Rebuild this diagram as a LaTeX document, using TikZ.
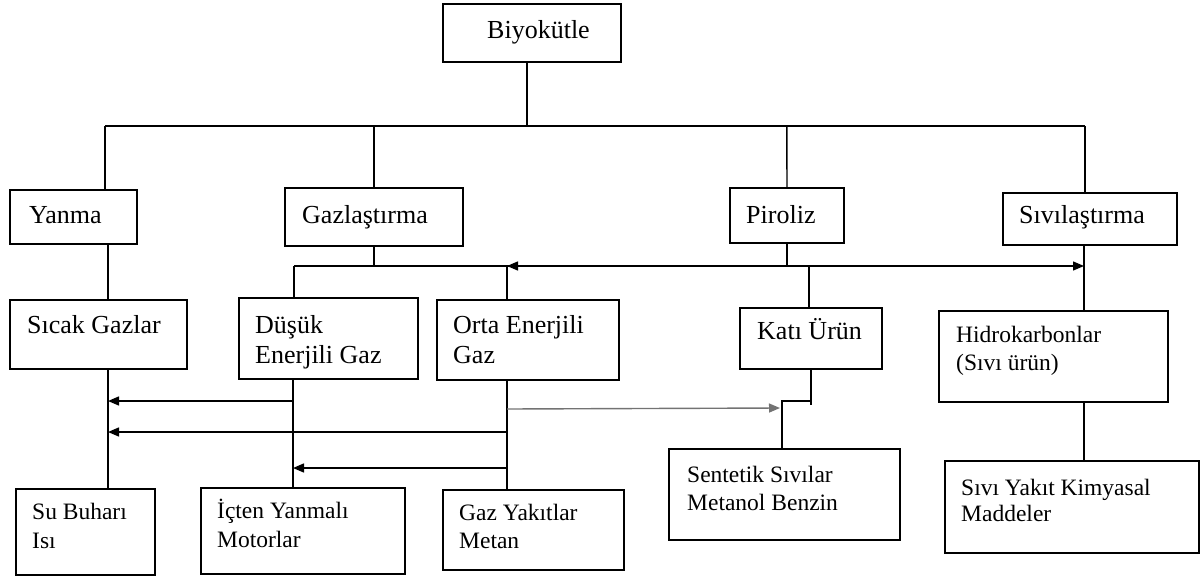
\documentclass[tikz,border=0pt]{standalone}
\usepackage{fontspec}
\setmainfont{Liberation Serif}
\usetikzlibrary{arrows.meta}
\newcommand\twoln[3]{\vtop{\baselineskip=#3\relax\hbox{#1}\hbox{#2}}}
\begin{document}
\begin{tikzpicture}[x=1pt,y=-1pt,
  box/.style={draw, line width=1.6pt, inner sep=0pt, anchor=north west},
  txt/.style={anchor=base west, inner sep=0pt, font=\fontsize{26}{30}\selectfont},
  stxt/.style={anchor=base west, inner sep=0pt, font=\fontsize{23.5}{28}\selectfont},
  conn/.style={line width=1.4pt},
  arr/.style={conn, -{Triangle[length=11pt,width=9pt]}}]
\useasboundingbox (0,0) rectangle (1200,579);
% boxes
\node[box, minimum width=178pt, minimum height=58pt] (bio) at (442,3) {};
\node[box, minimum width=127pt, minimum height=54pt] (yanma) at (9,189) {};
\node[box, minimum width=178pt, minimum height=58pt] (gaz) at (284,187) {};
\node[box, minimum width=114pt, minimum height=55pt] (pir) at (729,187) {};
\node[box, minimum width=174pt, minimum height=52pt] (siv) at (1002,192) {};
\node[box, minimum width=177pt, minimum height=69pt] (sicak) at (9,299) {};
\node[box, minimum width=179pt, minimum height=81pt] (dusuk) at (238,297) {};
\node[box, minimum width=182pt, minimum height=80pt] (orta) at (436,299) {};
\node[box, minimum width=142pt, minimum height=61pt] (kati) at (739,307) {};
\node[box, minimum width=229pt, minimum height=91pt] (hidro) at (938,310) {};
\node[box, minimum width=139pt, minimum height=86pt] (su) at (15,488) {};
\node[box, minimum width=204pt, minimum height=86pt] (icten) at (200,487) {};
\node[box, minimum width=181pt, minimum height=80pt] (gazyak) at (442,489) {};
\node[box, minimum width=231pt, minimum height=91pt] (sent) at (668,448) {};
\node[box, minimum width=254pt, minimum height=92pt] (sivi) at (944,460) {};
% texts
\node[txt] (biot) at (487,38) {Biyokütle};
\node[txt] (yanmat) at (29,223) {Yanma};
\node[txt] (gazt) at (302,223) {Gazlaştırma};
\node[txt] (pirt) at (746,223) {Piroliz};
\node[txt] (sivt) at (1019,223) {Sıvılaştırma};
\node[txt] (sicakt) at (27,333) {Sıcak Gazlar};
\node[txt] (dusukt) at (255,333) {\twoln{Düşük}{Enerjili Gaz}{30pt}};
\node[txt] (ortat) at (453,333) {\twoln{Orta Enerjili}{Gaz}{30pt}};
\node[txt] (katit) at (757,339) {Katı Ürün};
\node[stxt] (hidrot) at (956,342) {\twoln{Hidrokarbonlar}{(Sıvı ürün)}{28pt}};
\node[stxt] (sut) at (32,519) {\twoln{Su Buharı}{Isı}{29pt}};
\node[stxt] (ictent) at (217,518) {\twoln{İçten Yanmalı}{Motorlar}{29pt}};
\node[stxt] (gazyakt) at (459,520) {\twoln{Gaz Yakıtlar}{Metan}{28pt}};
\node[stxt] (sentt) at (687,482) {\twoln{Sentetik Sıvılar}{Metanol Benzin}{28pt}};
\node[stxt] (sivit) at (961,495) {\twoln{Sıvı Yakıt Kimyasal}{Maddeler}{26pt}};
% junction coordinates
\coordinate (busL) at (105,126);
\coordinate (busR) at (1085,126);
\coordinate (jL) at (294,266);
\coordinate (jR) at (1084,266);
\coordinate (jO) at (507,266);
\coordinate (jP) at (787,266);
\coordinate (jK) at (809,266);
\coordinate (lSic) at (108,0);
\coordinate (lDus) at (293,0);
\coordinate (lOrt) at (507,0);
\coordinate (sA) at (782,401);
\coordinate (sB) at (811,401);
% top tree
\draw[conn] (bio.south -| 527,0) -- (527,126);
\draw[conn] (busL) -- (busR);
\draw[conn] (busL) -- (busL |- yanma.north);
\draw[conn] (gaz.north |- busL) -- (gaz.north);
\draw[conn] (pir.north |- busL) -- (pir.north -| jP);
\draw[conn] (busR) -- (busR |- siv.north);
% Yanma -> Sicak
\draw[conn] (yanma.south -| lSic) -- (sicak.north -| lSic);
% gazlastirma split
\draw[conn] (gaz.south) -- (gaz.south |- jL);
\draw[conn] (dusuk.north -| jL) -- (jL);
\draw[arr] (jL) -- (jR);
\draw[arr] (jP) -- (jO);
\draw[conn] (orta.north -| jO) -- (jO);
\draw[conn] (pir.south -| jP) -- (jP);
\draw[conn] (jK) -- (kati.north -| jK);
\draw[conn] (siv.south -| jR) -- (hidro.north -| jR);
% lower verticals
\draw[conn] (sicak.south -| lSic) -- (su.north -| lSic);
\draw[conn] (dusuk.south -| lDus) -- (icten.north -| lDus);
\draw[conn] (orta.south -| lOrt) -- (gazyak.north -| lOrt);
\draw[conn] (hidro.south -| jR) -- (sivi.north -| jR);
% horizontal arrows
\draw[arr] (lDus |- 0,401) -- (lSic |- 0,401);
\draw[arr] (lOrt |- 0,432) -- (lSic |- 0,432);
\draw[arr] (lOrt |- 0,468) -- (lDus |- 0,468);
\draw[arr, draw=black!55] (lOrt |- 0,409) -- (780,408);
% kati -> sentetik
\draw[conn] (kati.south -| sB) -- (811,405);
\draw[conn] (sB) -- (sA) -- (sent.north -| sA);
\end{tikzpicture}
\end{document}
